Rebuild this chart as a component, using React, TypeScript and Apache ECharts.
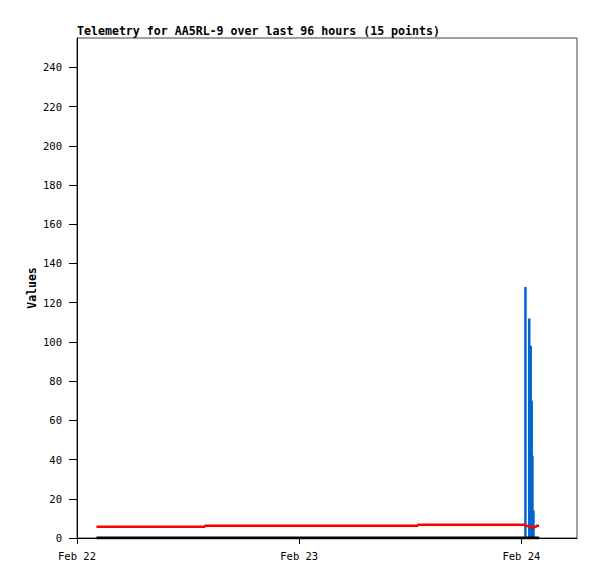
import React, { useEffect, useRef } from "react";
import * as echarts from "echarts";

// hours since Feb 22 00:00
const hours = [2.1, 13.8, 36.8, 48.43, 48.84, 49.0, 49.11, 49.19, 49.3, 49.45, 49.6, 49.68, 49.75, 49.82, 49.9];
const redValues = [5.8, 6.3, 6.8, 6.1, 5.6, 5.4, 5.4, 5.4, 5.6, 5.8, 6.2, 6.2, 6.2, 6.2, 6.2];
const blueValues = [0, 0, 0, 128, 112, 98, 70, 42, 14, 0, 0, 0, 0, 0, 0];
const blackValues = [0, 0, 0, 0, 0, 0, 0, 0, 0, 0, 0, 0, 0, 0, 0];
const dayLabels = ["Feb 22", "Feb 23", "Feb 24"];
const dayTicks = [0, 24, 48];
const yTicks = [0, 20, 40, 60, 80, 100, 120, 140, 160, 180, 200, 220, 240];
const title = "Telemetry for AA5RL-9 over last 96 hours (15 points)";

export default function App() {
  const ref = useRef<HTMLDivElement>(null);
  useEffect(() => {
    document.body.style.margin = "0";
    if (!ref.current) return;
    const chart = echarts.init(ref.current, null, { renderer: "svg" });
    const mono = "DejaVu Sans Mono";
    chart.setOption({
      animation: false,
      backgroundColor: "#ffffff",
      title: {
        text: title,
        left: 77,
        top: 25,
        padding: 0,
        textStyle: { fontFamily: mono, fontSize: 11.6, fontWeight: "bold", color: "#000" },
      },
      grid: {
        left: 77,
        right: 20,
        top: 38,
        bottom: 41,
        show: true,
        borderColor: "#444",
        borderWidth: 1,
        backgroundColor: "transparent",
      },
      xAxis: {
        type: "value",
        min: 0,
        max: 54,
        interval: 24,
        splitLine: { show: false },
        axisLine: { show: true, lineStyle: { color: "#000", width: 1 } },
        axisTick: { show: true, length: 6, customValues: dayTicks, lineStyle: { color: "#000" } },
        axisLabel: {
          margin: 12,
          fontFamily: mono,
          fontSize: 10.5,
          color: "#000",
          customValues: dayTicks,
          formatter: (v: number) => dayLabels[dayTicks.indexOf(Math.round(v))] ?? "",
        },
      },
      yAxis: {
        type: "value",
        min: 0,
        max: 255,
        interval: 20,
        name: "Values",
        nameLocation: "middle",
        nameGap: 39,
        nameMoveOverlap: false,
        nameTextStyle: { fontFamily: mono, fontSize: 11.5, fontWeight: "bold", color: "#000" },
        splitLine: { show: false },
        axisLine: { show: true, lineStyle: { color: "#000", width: 1 } },
        axisTick: { show: true, length: 8, customValues: yTicks, lineStyle: { color: "#000" } },
        axisLabel: { margin: 15, fontFamily: mono, fontSize: 10.5, color: "#000", customValues: yTicks },
      },
      series: [
        {
          type: "custom",
          data: hours.map((h, i) => [h, blueValues[i]]),
          renderItem: (params: any, api: any) => {
            const x = api.value(0);
            const v = api.value(1);
            if (!v) return null;
            const p0 = api.coord([x, 0]);
            const p1 = api.coord([x, v]);
            return {
              type: "rect",
              shape: { x: p0[0] - 1.25, y: p1[1], width: 2.5, height: p0[1] - p1[1] },
              style: { fill: "#0066cc" },
            };
          },
          z: 2,
        },
        {
          type: "line",
          step: "end",
          data: hours.map((h, i) => [h, redValues[i]]),
          symbol: "none",
          lineStyle: { color: "#ff0000", width: 2.5 },
          z: 3,
        },
        {
          type: "line",
          step: "end",
          data: hours.map((h, i) => [h, blackValues[i]]),
          symbol: "none",
          lineStyle: { color: "#000000", width: 3 },
          z: 4,
        },
      ],
    });
    return () => chart.dispose();
  }, []);
  return <div ref={ref} style={{ width: 597, height: 579 }} />;
}
